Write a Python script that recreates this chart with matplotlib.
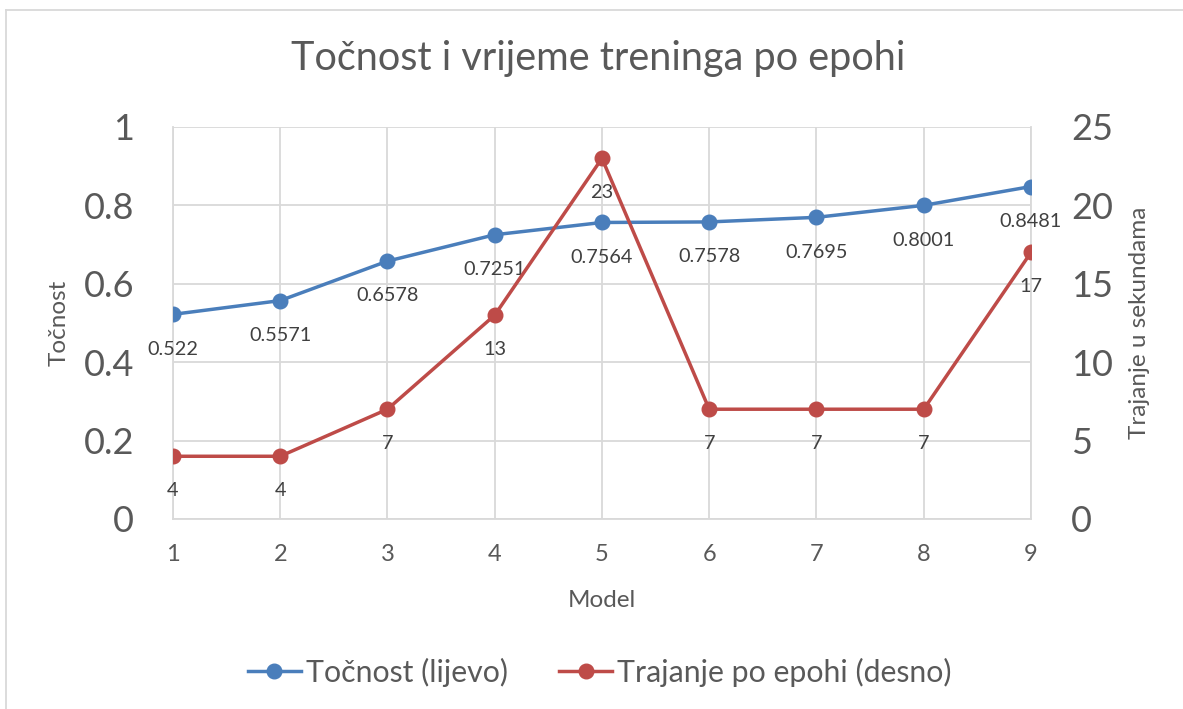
import matplotlib
matplotlib.use("Agg")
import matplotlib.pyplot as plt
from matplotlib.lines import Line2D

plt.rcParams['font.family'] = ['Lato', 'DejaVu Sans']

models = [1, 2, 3, 4, 5, 6, 7, 8, 9]
accuracy = [0.522, 0.5571, 0.6578, 0.7251, 0.7564, 0.7578, 0.7695, 0.8001, 0.8481]
accuracy_labels = ["0.522", "0.5571", "0.6578", "0.7251", "0.7564", "0.7578", "0.7695", "0.8001", "0.8481"]
duration = [4, 4, 7, 13, 23, 7, 7, 7, 17]

title = "Točnost i vrijeme treninga po epohi"
xlabel = "Model"
ylabel_left = "Točnost"
ylabel_right = "Trajanje u sekundama"
legend_labels = ["Točnost (lijevo)", "Trajanje po epohi (desno)"]

BLUE = "#4A7EBB"
RED = "#BE4B48"
TEXT = "#595959"
LABEL = "#404040"
GRID = "#D9D9D9"

LW = 2.5
MS = 10.5

fig = plt.figure(figsize=(11.83, 7.09), dpi=100)
ax = fig.add_axes([0.1462, 0.268, 0.7253, 0.5529])
ax2 = ax.twinx()

ax.set_xlim(1, 9)
ax.set_ylim(0, 1)
ax2.set_ylim(0, 25)
ax.set_xticks(models)
ax.set_yticks([0, 0.2, 0.4, 0.6, 0.8, 1.0])
ax.set_yticklabels(["0", "0.2", "0.4", "0.6", "0.8", "1"])
ax2.set_yticks([0, 5, 10, 15, 20, 25])

ax.grid(True, color=GRID, linewidth=1.3)
ax.set_axisbelow(True)
for a in (ax, ax2):
    for s in a.spines.values():
        s.set_visible(False)
    a.tick_params(length=0, colors=TEXT)
for side in ('bottom', 'left', 'right'):
    ax.spines[side].set_visible(True)
    ax.spines[side].set_color(GRID)
    ax.spines[side].set_linewidth(1.3)

ax.tick_params(axis='y', labelsize=26, pad=28)
ax2.tick_params(axis='y', labelsize=26, pad=29)
ax.tick_params(axis='x', labelsize=17, pad=18)

ax.plot(models, accuracy, color=BLUE, linewidth=LW, marker='o', markersize=MS, zorder=3)
ax2.plot(models, duration, color=RED, linewidth=LW, marker='o', markersize=MS, zorder=3)

for x, y, s in zip(models, accuracy, accuracy_labels):
    ax.annotate(s, (x, y), xytext=(0, -25), textcoords='offset points',
                ha='center', va='center', fontsize=14.3, color=LABEL)
for x, y in zip(models, duration):
    ax2.annotate(str(y), (x, y), xytext=(0, -24.5), textcoords='offset points',
                 ha='center', va='center', fontsize=14.3, color=LABEL)

ax.set_xlabel(xlabel, fontsize=17.5, color=TEXT, labelpad=18)
ax.set_ylabel(ylabel_left, fontsize=17.5, color=TEXT, labelpad=10)
ax2.set_ylabel(ylabel_right, fontsize=17.5, color=TEXT, labelpad=11)

fig.text(0.5055, 0.918, title, ha='center', va='center', fontsize=28.5, color=TEXT)

handles = [Line2D([], [], color=BLUE, linewidth=LW, marker='o', markersize=MS),
           Line2D([], [], color=RED, linewidth=LW, marker='o', markersize=MS)]
fig.legend(handles, legend_labels, loc='center', bbox_to_anchor=(0.507, 0.052),
           ncol=2, frameon=False, fontsize=21.8, labelcolor=TEXT,
           handlelength=1.75, handletextpad=0.17, columnspacing=1.7)

# chart border (left and top edges visible)
fig.add_artist(Line2D([6/1183, 6/1183], [0, 1 - 10/709], transform=fig.transFigure, color=GRID, linewidth=1.3))
fig.add_artist(Line2D([6/1183, 1], [1 - 10/709, 1 - 10/709], transform=fig.transFigure, color=GRID, linewidth=1.3))

fig.savefig("out.png", dpi=100)
